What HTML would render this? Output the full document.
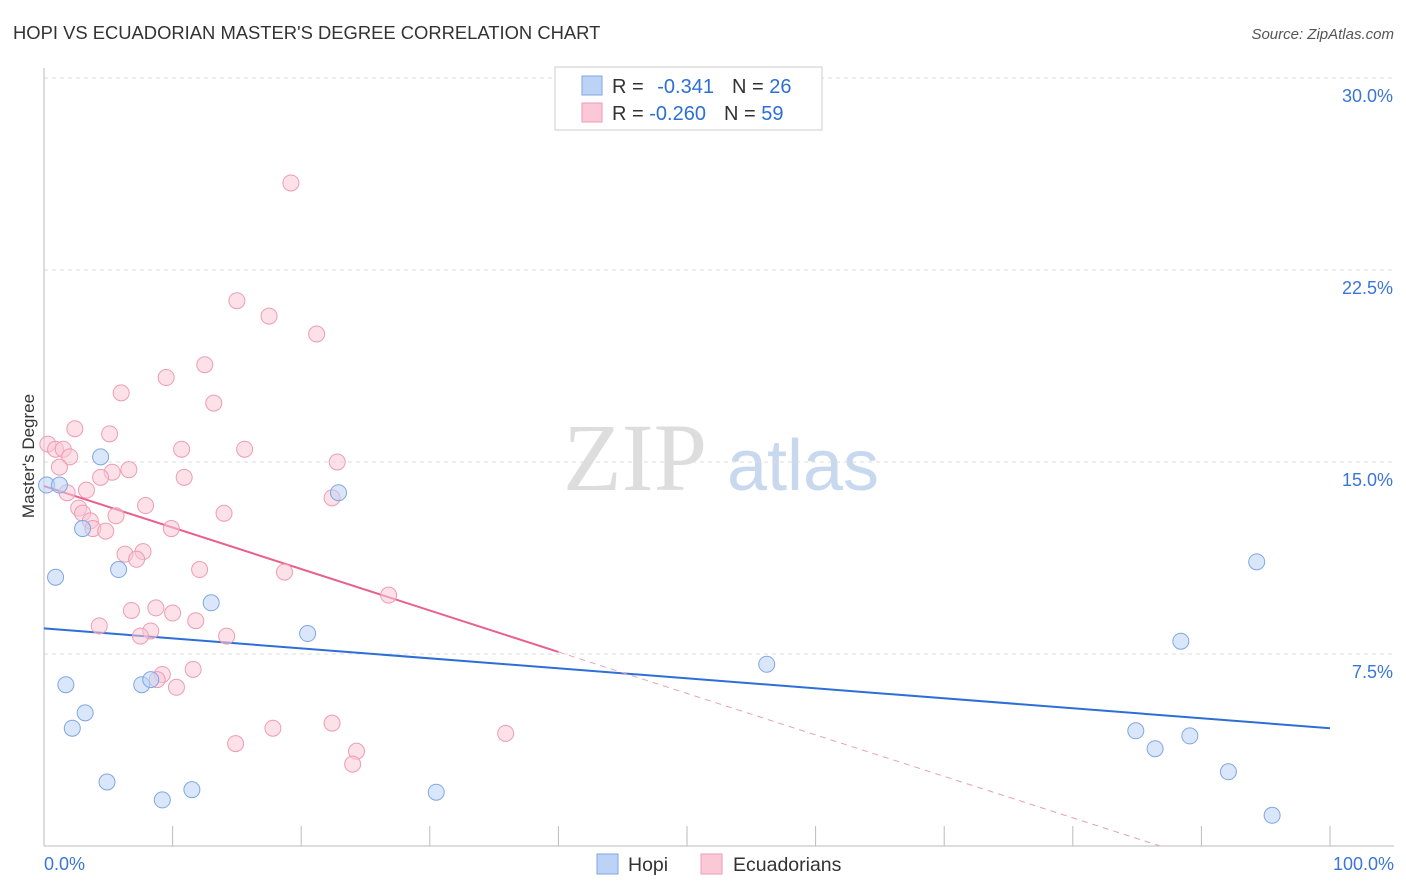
<!DOCTYPE html>
<html><head><meta charset="utf-8"><style>
body{margin:0;background:#fff;font-family:"Liberation Sans",sans-serif}
svg{display:block}
</style></head><body>
<svg id="c" width="1406" height="892" xmlns="http://www.w3.org/2000/svg">
<text x="13" y="39" font-size="18.4" fill="#333">HOPI VS ECUADORIAN MASTER'S DEGREE CORRELATION CHART</text>
<text x="1394" y="39" font-size="15" fill="#555" font-style="italic" text-anchor="end">Source: ZipAtlas.com</text>
<g>
<text x="635" y="490" font-size="96" font-family="Liberation Serif,serif" fill="#ddd" text-anchor="middle">ZIP</text>
<text x="803" y="490" font-size="72" fill="#c8d8ef" text-anchor="middle">atlas</text>
</g>
<g id="grid"></g>
<g id="axes"></g>
<text transform="translate(34,456) rotate(-90)" font-size="17" fill="#333" text-anchor="middle">Master's Degree</text>
<g id="lines"></g>
<g id="pts"></g>
<g>
<rect x="555" y="67" width="267" height="63" fill="#fff" stroke="#ccc"/>
<rect x="582" y="76" width="20" height="19" fill="#bcd3f5" stroke="#7fa7e3"/>
<rect x="582" y="103" width="20" height="19" fill="#fac8d6" stroke="#ee9cb4"/>
<text x="612" y="93" font-size="20" fill="#333">R = <tspan fill="#2d6fd6" dx="8">-0.341</tspan><tspan fill="#333" dx="18">N = </tspan><tspan fill="#2d6fd6">26</tspan></text>
<text x="612" y="120" font-size="20" fill="#333">R = <tspan fill="#2d6fd6">-0.260</tspan><tspan fill="#333" dx="18">N = </tspan><tspan fill="#2d6fd6">59</tspan></text>
</g>
<g>
<rect x="597" y="854" width="21" height="20" fill="#bcd3f5" stroke="#7fa7e3"/>
<text x="628" y="871" font-size="19.5" fill="#333">Hopi</text>
<rect x="701" y="854" width="21" height="20" fill="#fac8d6" stroke="#ee9cb4"/>
<text x="733" y="871" font-size="19.5" fill="#333">Ecuadorians</text>
</g>
</svg>
<script>
const yTicks=[7.5,15,22.5,30];
const yTickLabels=["7.5%","15.0%","22.5%","30.0%"];
const hopiX=[0.2,1.2,4.4,3.0,0.9,5.8,13.0,20.5,22.9,1.7,7.6,8.3,3.2,2.2,4.9,9.2,11.5,30.5,56.2,88.4,94.3,84.9,86.4,89.1,92.1,95.5];
const hopiY=[14.1,14.1,15.2,12.4,10.5,10.8,9.5,8.3,13.8,6.3,6.3,6.5,5.2,4.6,2.5,1.8,2.2,2.1,7.1,8.0,11.1,4.5,3.8,4.3,2.9,1.2];
const ecuX=[19.2,15.0,17.5,21.2,12.5,9.5,6.0,13.2,2.4,5.1,10.7,15.6,0.3,0.9,1.5,2.0,1.2,22.8,6.6,5.3,4.4,10.9,3.3,1.8,22.4,7.9,2.7,3.0,5.6,14.0,3.6,3.8,4.8,9.9,6.3,7.7,7.2,12.1,18.7,26.8,6.8,8.7,10.0,11.8,4.3,8.3,7.5,14.2,11.6,9.2,8.8,10.3,17.8,22.4,14.9,24.3,24.0,35.9];
const ecuY=[25.9,21.3,20.7,20.0,18.8,18.3,17.7,17.3,16.3,16.1,15.5,15.5,15.7,15.5,15.5,15.2,14.8,15.0,14.7,14.6,14.4,14.4,13.9,13.8,13.6,13.3,13.2,13.0,12.9,13.0,12.7,12.4,12.3,12.4,11.4,11.5,11.2,10.8,10.7,9.8,9.2,9.3,9.1,8.8,8.6,8.4,8.2,8.2,6.9,6.7,6.5,6.2,4.6,4.8,4.0,3.7,3.2,4.4];
const hopiTrend=[8.5,4.6];
const ecuTrend=[14.06,-0.162];
const X=v=>44+v*12.86, Y=v=>846-v*25.6;
const NS="http://www.w3.org/2000/svg";
function mk(t,a,p){const e=document.createElementNS(NS,t);for(const k in a)e.setAttribute(k,a[k]);p.appendChild(e);return e;}
const g=document.getElementById('grid'),ax=document.getElementById('axes'),ln=document.getElementById('lines'),pt=document.getElementById('pts');
yTicks.forEach((v,i)=>{
 const l=mk('line',{x1:44,x2:1394,y1:Y(v),y2:Y(v),stroke:'#ddd','stroke-dasharray':'4,4'},g);
 
 
 const t=mk('text',{x:1393,y:Y(v)+24,'font-size':18,fill:'#3a76d8','text-anchor':'end'},g);
 t.textContent=yTickLabels[i];
 
 
});
let a=mk('line',{x1:44,x2:44,y1:68,y2:846,stroke:'#bbb'},ax);


a=mk('line',{x1:44,x2:1394,y1:846,y2:846,stroke:'#bbb'},ax);


for(let i=0;i<=10;i++){const t=mk('line',{x1:X(i*10),x2:X(i*10),y1:826,y2:846,stroke:'#bbb'},ax);
 
 }
let t=mk('text',{x:44,y:870,'font-size':18,fill:'#3a76d8'},ax);t.textContent='0.0%';


t=mk('text',{x:1394,y:870,'font-size':18,fill:'#3a76d8','text-anchor':'end'},ax);t.textContent='100.0%';


function drawPts(xs,ys,fill,stroke,name){xs.forEach((x,i)=>{const c=mk('circle',{cx:X(x),cy:Y(ys[i]),r:8,fill:fill,'fill-opacity':0.55,stroke:stroke,'stroke-width':1},pt);
 
 });}
drawPts(ecuX,ecuY,'#fac8d6','#ee9cb4','ecuadorians-point');
drawPts(hopiX,hopiY,'#bcd3f5','#7fa7e3','hopi-point');
let l=mk('line',{x1:X(0),y1:Y(hopiTrend[0]),x2:X(100),y2:Y(hopiTrend[1]),stroke:'#2d6fd6','stroke-width':2},ln);


const ey=x=>ecuTrend[0]+ecuTrend[1]*x;
l=mk('line',{x1:X(0),y1:Y(ey(0)),x2:X(40),y2:Y(ey(40)),stroke:'#e8608b','stroke-width':2},ln);


const xe=-ecuTrend[0]/ecuTrend[1];
l=mk('line',{x1:X(40),y1:Y(ey(40)),x2:X(xe),y2:Y(0),stroke:'#e8a0b8','stroke-width':1,'stroke-dasharray':'6,5'},ln);


</script>
</body></html>
